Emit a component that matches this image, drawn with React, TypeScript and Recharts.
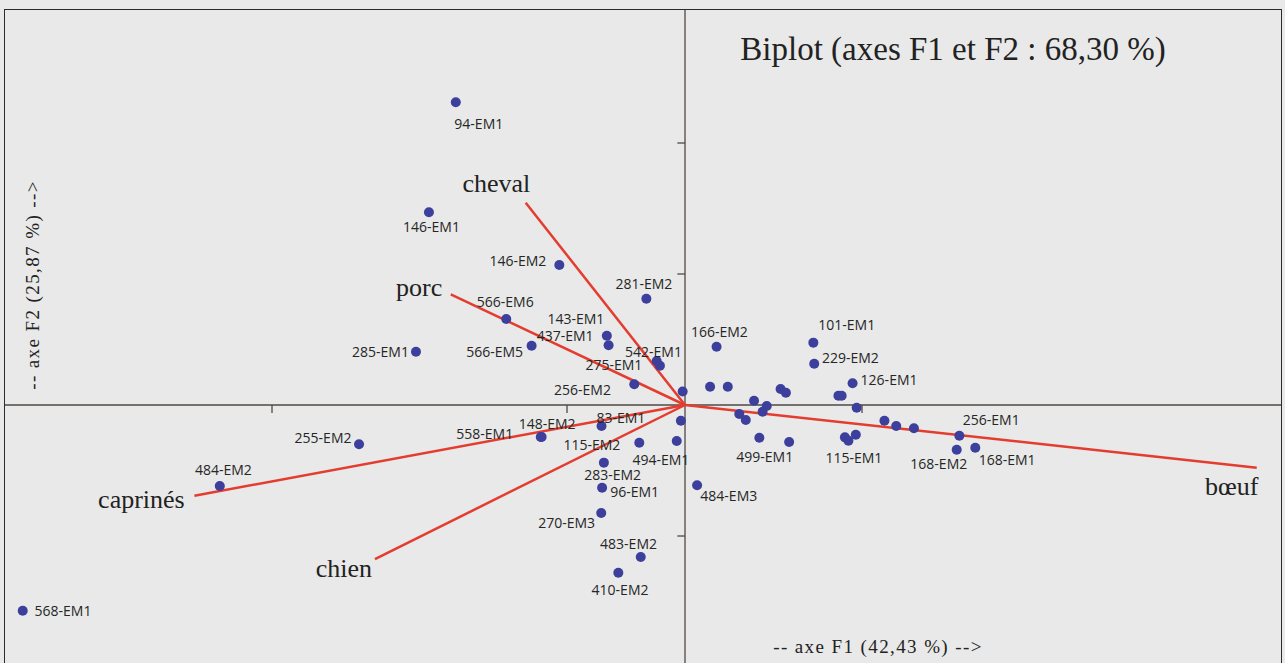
import React from 'react';
import { ScatterChart, Scatter, XAxis, YAxis, ReferenceLine } from 'recharts';

// Observations (scores on F1 / F2)
const pointLabels = [
  '94-EM1', '146-EM1', '146-EM2', '281-EM2', '566-EM6', '143-EM1', '437-EM1', '566-EM5', '285-EM1', '542-EM1',
  '275-EM1', '256-EM2', '', '166-EM2', '', '', '101-EM1', '229-EM2', '126-EM1', '',
  '', '', '', '', '', '', '', '', '', '499-EM1',
  '', '', '115-EM1', '', '', '', '', '256-EM1', '168-EM2', '168-EM1',
  '', '494-EM1', '484-EM3', '83-EM1', '148-EM2', '558-EM1', '115-EM2', '283-EM2', '96-EM1', '270-EM3',
  '483-EM2', '410-EM2', '255-EM2', '484-EM2', '568-EM1',
];
const f1Scores = [
  -0.777, -0.868, -0.426, -0.131, -0.606, -0.265, -0.259, -0.520, -0.912, -0.096,
  -0.085, -0.172, -0.008, 0.107, 0.085, 0.145, 0.435, 0.438, 0.568, 0.520,
  0.531, 0.234, 0.324, 0.342, 0.277, 0.263, 0.184, 0.206, 0.582, 0.252,
  0.353, 0.542, 0.554, 0.579, 0.676, 0.716, 0.776, 0.930, 0.921, 0.984,
  -0.014, -0.028, 0.041, -0.283, -0.486, -0.489, -0.155, -0.275, -0.281, -0.284,
  -0.150, -0.226, -1.105, -1.577, -2.245,
];
const f2Scores = [
  2.311, 1.471, 1.069, 0.811, 0.656, 0.529, 0.456, 0.453, 0.407, 0.336,
  0.300, 0.159, 0.103, 0.445, 0.140, 0.140, 0.476, 0.315, 0.166, 0.071,
  0.071, 0.033, 0.122, 0.094, -0.008, -0.051, -0.069, -0.115, -0.021, -0.250,
  -0.282, -0.247, -0.273, -0.227, -0.120, -0.160, -0.178, -0.235, -0.341, -0.326,
  -0.120, -0.275, -0.613, -0.160, -0.244, -0.244, -0.288, -0.440, -0.631, -0.824,
  -1.160, -1.280, -0.300, -0.618, -1.570,
];
// label placement around each point (px)
const labelDx = [
  23, 2.5, -41.5, -2.5, -1, -31, -43.5, -37, -35.5, -3.2,
  -46, -51.8, 0, 2.8, 0, 0, 33.4, 36.2, 36.5, 0,
  0, 0, 0, 0, 0, 0, 0, 0, 0, 5.4,
  0, 0, 5.4, 0, 0, 0, 0, 31.9, -17.9, 31.8,
  0, -15.9, 31.7, 19.3, 5.5, -56, -47.4, 8.7, 32.5, -34.6,
  -12.2, 1.7, -36, 3.6, 40.3,
];
const labelDy = [
  21, 14.4, -4, -15.4, -17.3, -17.2, -9.8, 6, 0, -9.8,
  -1, 5, 0, -15, 0, 0, -17.7, -6.4, -3.3, 0,
  0, 0, 0, 0, 0, 0, 0, 0, 0, 18.3,
  0, 0, 16.6, 0, 0, 0, 0, -15.8, 14.3, 11.3,
  0, 18, 9.7, -8.5, -13.7, -3, 1.3, 12, 3.5, 9.7,
  -13, 16.6, -7, -16.7, 0.3,
];

// Variables (loadings on F1 / F2)
const variableNames = ['cheval', 'porc', 'caprinés', 'chien', 'bœuf'];
const variableF1 = [-0.540, -0.794, -1.663, -1.051, 1.938];
const variableF2 = [1.544, 0.845, -0.692, -1.176, -0.479];
const variableLabelDx = [-29.4, -31.7, -53, -31, -25];
const variableLabelDy = [-19.4, -7.3, 4.3, 9.3, 19];

const xTicks = [-1.4, -0.4, 0.6];
const yTicks = [2, 1, -1, -2];

const titleText = 'Biplot (axes F1 et F2 : 68,30 %)';
const xAxisTitle = '-- axe F1 (42,43 %) -->';
const yAxisTitle = '-- axe F2 (25,87 %) -->';

const X_DOMAIN: [number, number] = [-2.3051, 2.0203];
const Y_DOMAIN: [number, number] = [-2.0992, 3.0153];

const points = pointLabels.map((label, i) => ({
  x: f1Scores[i],
  y: f2Scores[i],
  label,
  dx: labelDx[i],
  dy: labelDy[i],
}));

const variables = variableNames.map((name, i) => ({
  x: variableF1[i],
  y: variableF2[i],
  label: name,
  dx: variableLabelDx[i],
  dy: variableLabelDy[i],
}));

const DOT = '#3d3f9c';
const RED = '#e43c2f';
const AXIS = '#514943';

const dotShape = (props: any) => {
  const { cx, cy } = props;
  if (cx == null || cy == null) return <g />;
  return <circle cx={cx} cy={cy} r={5} fill={DOT} />;
};

const pointLabelShape = (props: any) => {
  const { cx, cy, payload } = props;
  if (cx == null || cy == null || !payload || !payload.label) return <g />;
  return (
    <text
      x={cx + payload.dx}
      y={cy + payload.dy}
      textAnchor="middle"
      dominantBaseline="central"
      fontFamily="'Open Sans', sans-serif"
      fontSize={14}
      fill="#262626"
    >
      {payload.label}
    </text>
  );
};

const variableLabelShape = (props: any) => {
  const { cx, cy, payload } = props;
  if (cx == null || cy == null || !payload) return <g />;
  return (
    <text
      x={cx + payload.dx}
      y={cy + payload.dy}
      textAnchor="middle"
      dominantBaseline="central"
      fontFamily="'Liberation Serif', serif"
      fontSize={26}
      fill="#222"
    >
      {payload.label}
    </text>
  );
};

export default function App() {
  return (
    <div
      style={{
        position: 'absolute',
        left: 0,
        top: 0,
        width: 1285,
        height: 663,
        overflow: 'hidden',
        background: '#e8e9e8',
      }}
    >
      <div
        style={{
          position: 'absolute',
          left: 4,
          top: 9,
          width: 1276,
          height: 700,
          border: '1.5px solid #2b2b2b',
        }}
      />
      <div style={{ position: 'absolute', left: 0, top: 0 }}>
        <ScatterChart width={1285} height={700} margin={{ top: 10, right: 4, bottom: 20, left: 5 }}>
          <XAxis type="number" dataKey="x" domain={X_DOMAIN} allowDataOverflow hide />
          <YAxis type="number" dataKey="y" domain={Y_DOMAIN} allowDataOverflow hide />
          <ReferenceLine x={0} stroke={AXIS} strokeWidth={1.3} />
          <ReferenceLine y={0} stroke={AXIS} strokeWidth={1.3} />
          {xTicks.map((t) => (
            <ReferenceLine
              key={'xt' + t}
              segment={[{ x: t, y: 0 }, { x: t, y: -0.061 }]}
              stroke={AXIS}
              strokeWidth={1.3}
            />
          ))}
          {yTicks.map((t) => (
            <ReferenceLine
              key={'yt' + t}
              segment={[{ x: 0, y: t }, { x: -0.026, y: t }]}
              stroke={AXIS}
              strokeWidth={1.3}
            />
          ))}
          <Scatter data={points} shape={dotShape} isAnimationActive={false} />
          {variables.map((v) => (
            <ReferenceLine
              key={'v' + v.label}
              segment={[{ x: 0, y: 0 }, { x: v.x, y: v.y }]}
              stroke={RED}
              strokeWidth={2.5}
            />
          ))}
          <Scatter data={points} shape={pointLabelShape} isAnimationActive={false} />
          <Scatter data={variables} shape={variableLabelShape} isAnimationActive={false} />
        </ScatterChart>
      </div>
      <svg
        width={1285}
        height={663}
        style={{ position: 'absolute', left: 0, top: 0, pointerEvents: 'none' }}
      >
        <text
          x={953}
          y={60}
          textAnchor="middle"
          fontFamily="'Liberation Serif', serif"
          fontSize={33}
          fill="#222"
        >
          {titleText}
        </text>
        <text
          x={878}
          y={653}
          textAnchor="middle"
          fontFamily="'Liberation Serif', serif"
          fontSize={19}
          letterSpacing={1.4}
          fill="#222"
        >
          {xAxisTitle}
        </text>
        <text
          x={39}
          y={285}
          textAnchor="middle"
          transform="rotate(-90 39 285)"
          fontFamily="'Liberation Serif', serif"
          fontSize={19}
          letterSpacing={1.4}
          fill="#222"
        >
          {yAxisTitle}
        </text>
      </svg>
    </div>
  );
}
